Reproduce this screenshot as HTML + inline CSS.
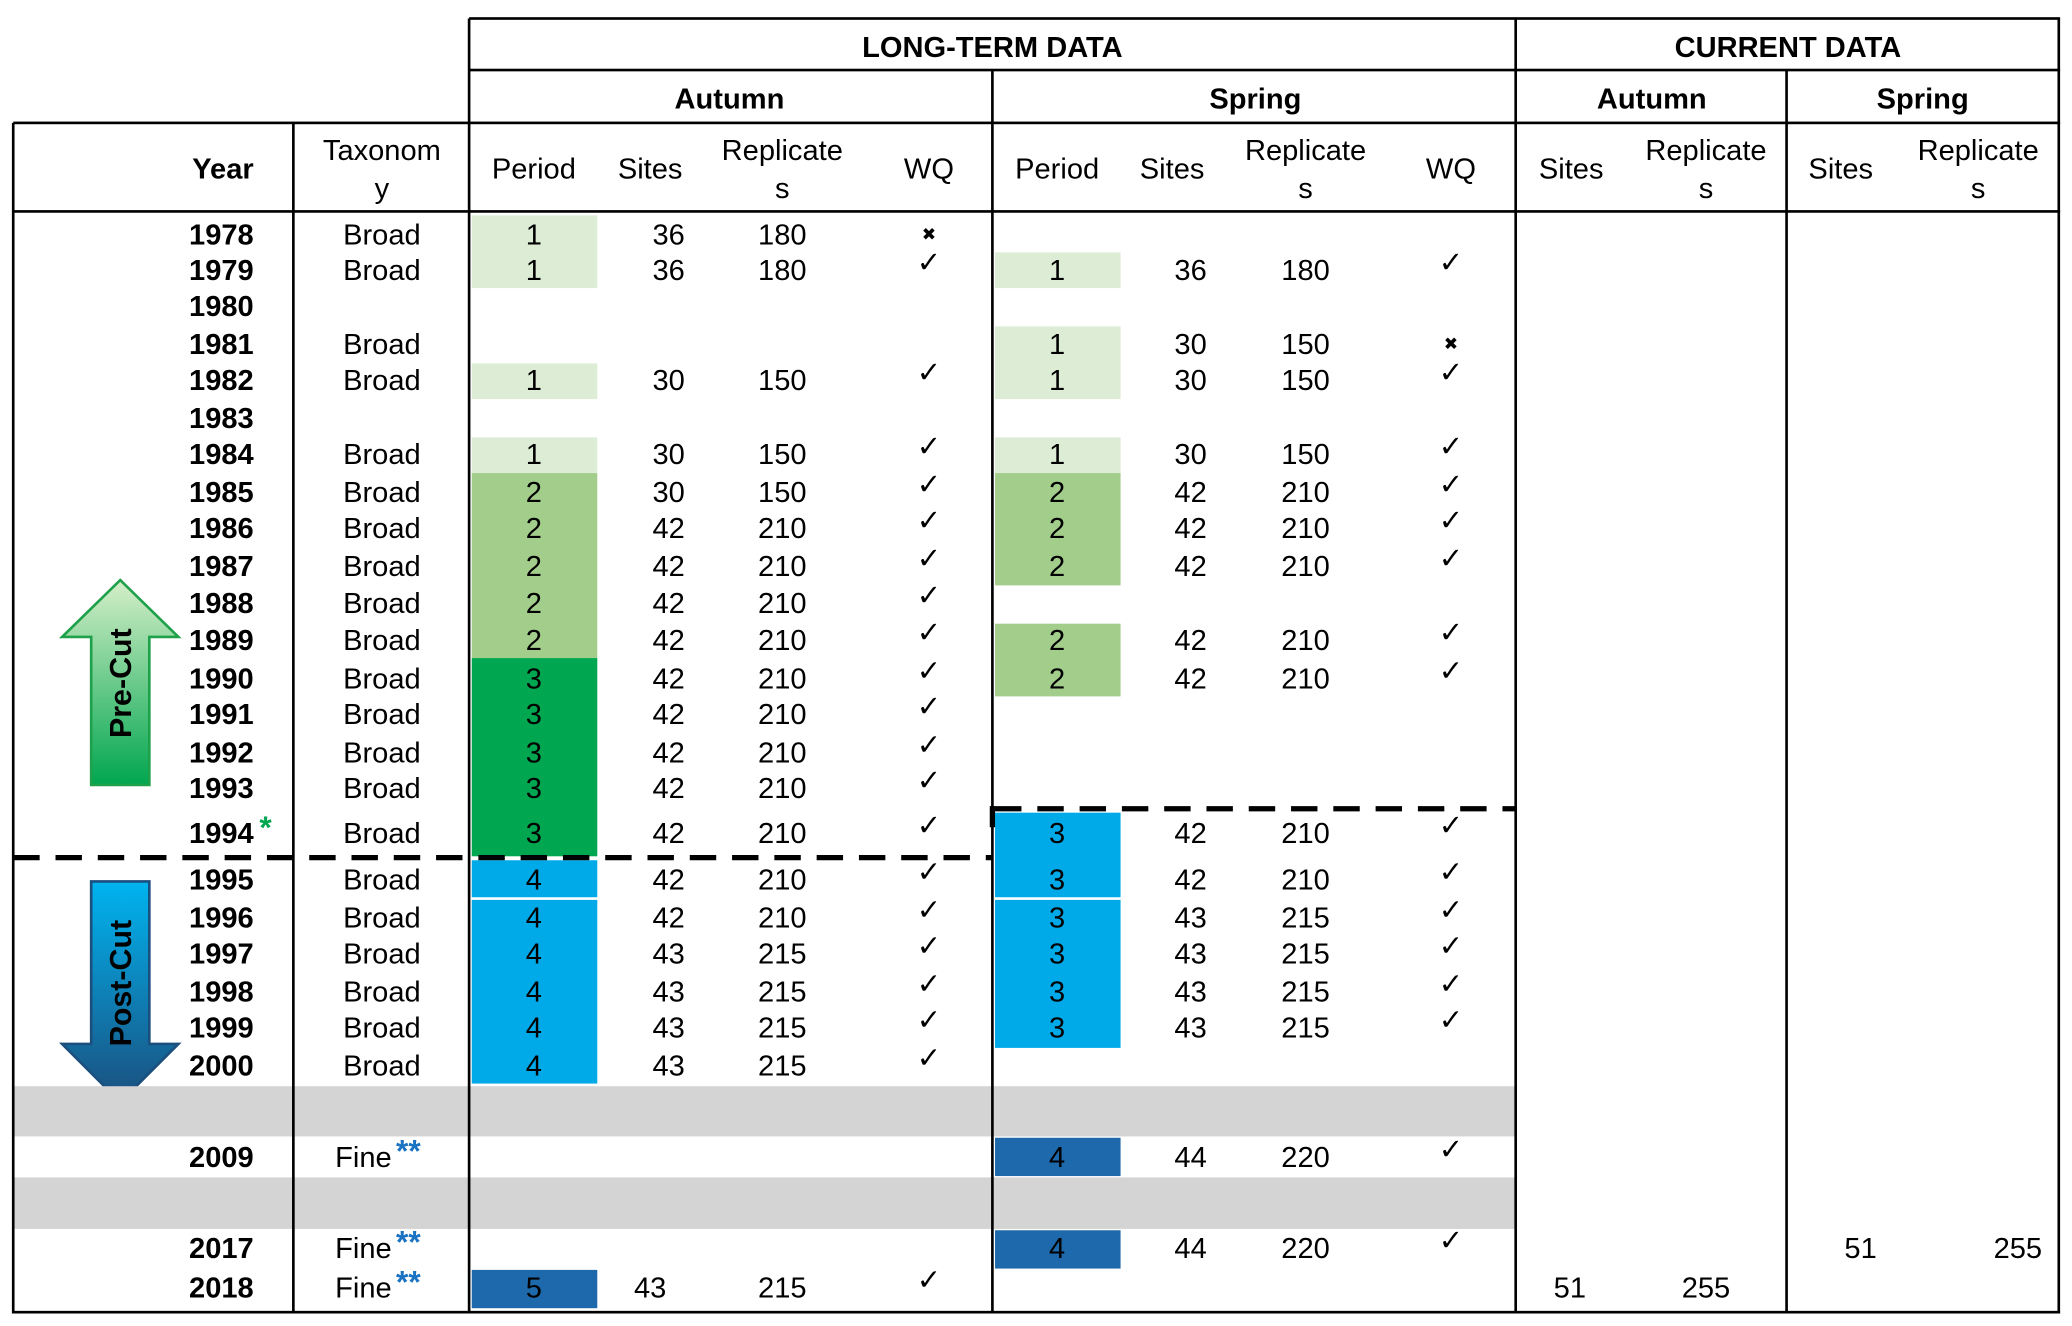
<!DOCTYPE html>
<html><head><meta charset="utf-8">
<style>
html,body{margin:0;padding:0;background:#fff;}
#wrap{position:relative;width:2072px;height:1326px;overflow:hidden;}
#stage{position:absolute;left:0;top:0;width:1568px;height:1003px;transform:scale(1.32143);transform-origin:0 0;font-family:"Liberation Sans",sans-serif;color:#000;}
.t{position:absolute;transform:translate(-50%,-50%);white-space:nowrap;font-size:22px;line-height:1;}
.r{position:absolute;transform:translate(-100%,-50%);white-space:nowrap;font-size:22px;line-height:1;}
.b{font-weight:bold;}
.box{position:absolute;}
.vl{position:absolute;width:2px;background:#000;}
.hl{position:absolute;height:2px;background:#000;}
</style></head>
<body>
<div id="wrap">
<div id="stage">
<svg style="position:absolute;left:0;top:0" width="1568" height="1003">
<defs>
<linearGradient id="gg" x1="0" y1="0" x2="0" y2="1"><stop offset="0" stop-color="#d6efc8"/><stop offset="1" stop-color="#00a650"/></linearGradient>
<linearGradient id="bg" x1="0" y1="0" x2="0" y2="1"><stop offset="0" stop-color="#00b4f0"/><stop offset="1" stop-color="#1b4f7e"/></linearGradient>
</defs>
<polygon points="91,439 135,482 113,482 113,594 69,594 69,482 47,482" fill="url(#gg)" stroke="#1fa04a" stroke-width="2"/>
<polygon points="69,667 113,667 113,790 135,790 91,834 47,790 69,790" fill="url(#bg)" stroke="#1b4f7e" stroke-width="2"/>
<text x="0" y="0" transform="translate(99,517) rotate(-90)" text-anchor="middle" font-family="Liberation Sans, sans-serif" font-weight="bold" font-size="23">Pre-Cut</text>
<text x="0" y="0" transform="translate(99,744) rotate(-90)" text-anchor="middle" font-family="Liberation Sans, sans-serif" font-weight="bold" font-size="23">Post-Cut</text>
</svg>
</div></div>
<script>
const years=["1978","1979","1980","1981","1982","1983","1984","1985","1986","1987","1988","1989","1990","1991","1992","1993","1994","1995","1996","1997","1998","1999","2000","2009","2017","2018"];
const rowY=[178,205,232,261,288,317,344,373,400,429,457,485,514,541,570,597,631,666,695,722,751,778,807,876,945,975];
const taxa=["Broad","Broad","","Broad","Broad","","Broad","Broad","Broad","Broad","Broad","Broad","Broad","Broad","Broad","Broad","Broad","Broad","Broad","Broad","Broad","Broad","Broad","Fine","Fine","Fine"];
const aPeriod=["1","1","","","1","","1","2","2","2","2","2","3","3","3","3","3","4","4","4","4","4","4","","","5"];
const aSites=["36","36","","","30","","30","30","42","42","42","42","42","42","42","42","42","42","42","43","43","43","43","","","43"];
const aRep=["180","180","","","150","","150","150","210","210","210","210","210","210","210","210","210","210","210","215","215","215","215","","","215"];
const aWQ=["x","v","","","v","","v","v","v","v","v","v","v","v","v","v","v","v","v","v","v","v","v","","","v"];
const sPeriod=["","1","","1","1","","1","2","2","2","","2","2","","","","3","3","3","3","3","3","","4","4",""];
const sSites=["","36","","30","30","","30","42","42","42","","42","42","","","","42","42","43","43","43","43","","44","44",""];
const sRep=["","180","","150","150","","150","210","210","210","","210","210","","","","210","210","215","215","215","215","","220","220",""];
const sWQ=["","v","","x","v","","v","v","v","v","","v","v","","","","v","v","v","v","v","v","","v","v",""];
const S=document.getElementById('stage');
function add(cls,x,y,txt,name,extra){const d=document.createElement('div');d.className=cls;d.style.left=x+'px';d.style.top=y+'px';d.textContent=txt;


if(extra)Object.assign(d.style,extra);S.appendChild(d);return d;}
function box(x,y,w,h,c,name){const d=document.createElement('div');d.className='box';d.style.cssText=`left:${x}px;top:${y}px;width:${w}px;height:${h}px;background:${c}`;


S.appendChild(d);}
const LG='#dcecd5',MG='#a3cd8b',DG='#00a650',BL='#00a9e8',DB='#1d69ab',GR='#d4d4d4';
box(10,822,1137,38,GR,'gap-band-2001-2008');
box(10,891,1137,39,GR,'gap-band-2010-2016');
[[163,55,LG],[275,27,LG],[331,27,LG],[358,140,MG],[498,150,DG],[651,28,BL],[681,139,BL],[961,29,DB]].forEach(f=>box(357,f[0],95,f[1],f[2],'autumn-period-fill'));
[[191,27,LG],[247,55,LG],[331,27,LG],[358,85,MG],[472,55,MG],[615,64,BL],[681,112,BL],[861,29,DB],[931,29,DB]].forEach(f=>box(753,f[0],95,f[1],f[2],'spring-period-fill'));
function vl(x,y1,y2,n){const d=document.createElement('div');d.className='vl';d.style.cssText=`left:${x-1}px;top:${y1}px;height:${y2-y1}px`;


S.appendChild(d);}
function hl(x1,x2,y,n){const d=document.createElement('div');d.className='hl';d.style.cssText=`left:${x1}px;top:${y-1}px;width:${x2-x1}px`;


S.appendChild(d);}
vl(10,93,994,'border-left');vl(222,93,994,'col-line');vl(355,14,994,'col-line');vl(751,53,994,'col-line');vl(1147,14,994,'col-line');vl(1352,53,994,'col-line');vl(1558,14,994,'border-right');
hl(355,1559,14,'border-top');hl(355,1559,53,'header-line');hl(10,1559,93,'header-line');hl(10,1559,160,'header-line');hl(10,1559,993,'border-bottom');
// dashed lines
const NS='http://www.w3.org/2000/svg';
const ds=document.createElementNS(NS,'svg');ds.setAttribute('width','1568');ds.setAttribute('height','1003');ds.style.cssText='position:absolute;left:0;top:0';


function dl(x1,x2,y,n){const l=document.createElementNS(NS,'line');l.setAttribute('x1',x1);l.setAttribute('x2',x2);l.setAttribute('y1',y);l.setAttribute('y2',y);l.setAttribute('stroke','#000');l.setAttribute('stroke-width','4');l.setAttribute('stroke-dasharray','20 12');


ds.appendChild(l);}
dl(10,751,649,'cut-line-autumn');
dl(753,1147,612,'cut-line-spring');
S.appendChild(ds);
box(749,610,4,16,'#000','cut-line-joint');
add('t b',751,36,'LONG-TERM DATA','long-term-data-header');
add('t b',1353,36,'CURRENT DATA','current-data-header');
add('t b',552,75,'Autumn','lt-autumn-header');add('t b',950,75,'Spring','lt-spring-header');
add('t b',1250,75,'Autumn','cur-autumn-header');add('t b',1455,75,'Spring','cur-spring-header');
add('r b',192,128,'Year','year-header');
add('t',289,114,'Taxonom','taxonomy-header');add('t',289,143,'y','taxonomy-header-wrap');
[[404,'Period'],[492,'Sites'],[703,'WQ'],[800,'Period'],[887,'Sites'],[1098,'WQ'],[1189,'Sites'],[1393,'Sites']].forEach(h=>add('t',h[0],128,h[1],'column-header'));
[592,988,1291,1497].forEach(x=>{add('t',x,114,'Replicate','replicates-header');add('t',x,143,'s','replicates-header-wrap');});
years.forEach((yr,i)=>{const y=rowY[i];
 add('r b',192,y,yr,'year-label');
 if(yr==='1994'){add('t b',201,y-4,'*','sampling-note-asterisk',{color:'#00a650',fontSize:'24px'});}
 if(taxa[i]){add('t',taxa[i]==='Fine'?275:289,y,taxa[i],'taxonomy-value');
   if(taxa[i]==='Fine')add('t b',309,y-4,'**','fine-note-asterisks',{color:'#1a73c2',fontSize:'24px'});}
 const ck=(v,x)=>{if(v==='v')add('t',x,y-5,'✓','wq-check',{fontFamily:'DejaVu Sans,sans-serif',fontSize:'22px'});else if(v==='x')add('t',x,y,'✖','wq-cross',{fontFamily:'DejaVu Sans,sans-serif',fontSize:'13px'});};
 if(aPeriod[i])add('t',404,y,aPeriod[i],'autumn-period');
 if(aSites[i])add('t',yr==='2018'?492:506,y,aSites[i],'autumn-sites');
 if(aRep[i])add('t',592,y,aRep[i],'autumn-replicates');
 ck(aWQ[i],703);
 if(sPeriod[i])add('t',800,y,sPeriod[i],'spring-period');
 if(sSites[i])add('t',901,y,sSites[i],'spring-sites');
 if(sRep[i])add('t',988,y,sRep[i],'spring-replicates');
 ck(sWQ[i],1098);
});
add('t',1188,975,'51','current-autumn-sites');add('t',1291,975,'255','current-autumn-replicates');
add('t',1408,945,'51','current-spring-sites');add('t',1527,945,'255','current-spring-replicates');
</script>
</body></html>
